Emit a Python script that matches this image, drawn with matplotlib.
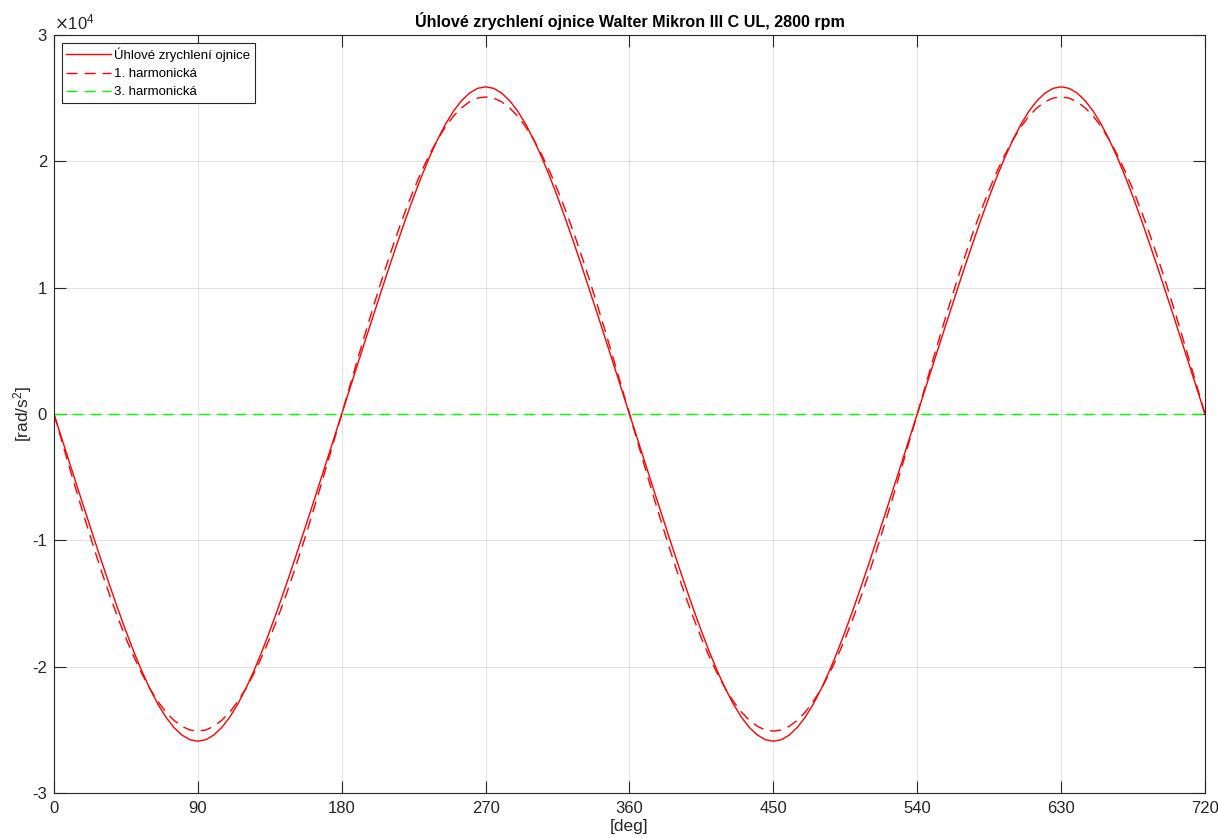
import matplotlib.pyplot as plt
import numpy as np

plt.rcParams['font.family'] = ['Liberation Sans', 'DejaVu Sans']

# crank angle, one cycle at 5 deg steps (second cycle repeats it)
angle_cycle = list(range(0, 360, 5))
# total angular acceleration of the rod [rad/s^2], 0..355 deg
accel_cycle = [0, -1980, -3960, -5930, -7890, -9830, -11750, -13620, -15440, -17180,
               -18830, -20360, -21740, -22960, -23990, -24810, -25410, -25780, -25900,
               -25780, -25410, -24810, -23990, -22960, -21740, -20360, -18830, -17180,
               -15440, -13620, -11750, -9830, -7890, -5930, -3960, -1980,
               0, 1980, 3960, 5930, 7890, 9830, 11750, 13620, 15440, 17180,
               18830, 20360, 21740, 22960, 23990, 24810, 25410, 25780, 25900,
               25780, 25410, 24810, 23990, 22960, 21740, 20360, 18830, 17180,
               15440, 13620, 11750, 9830, 7890, 5930, 3960, 1980]
# 1st harmonic
harm1_cycle = [0, -2190, -4360, -6500, -8580, -10610, -12550, -14400, -16130, -17750,
               -19230, -20560, -21740, -22750, -23590, -24240, -24720, -25010, -25100,
               -25010, -24720, -24240, -23590, -22750, -21740, -20560, -19230, -17750,
               -16130, -14400, -12550, -10610, -8580, -6500, -4360, -2190,
               0, 2190, 4360, 6500, 8580, 10610, 12550, 14400, 16130, 17750,
               19230, 20560, 21740, 22750, 23590, 24240, 24720, 25010, 25100,
               25010, 24720, 24240, 23590, 22750, 21740, 20560, 19230, 17750,
               16130, 14400, 12550, 10610, 8580, 6500, 4360, 2190]
# 3rd harmonic (flat in the plot)
harm3_cycle = [0] * 72

angle = np.array(angle_cycle + [a + 360 for a in angle_cycle] + [720])
accel = np.array(accel_cycle + accel_cycle + [0])
harm1 = np.array(harm1_cycle + harm1_cycle + [0])
harm3 = np.array(harm3_cycle + harm3_cycle + [0])

xticks = list(range(0, 721, 90))
yticks = [-3e4, -2e4, -1e4, 0, 1e4, 2e4, 3e4]
ylabels = ['-3', '-2', '-1', '0', '1', '2', '3']

fig = plt.figure(figsize=(12.18, 8.38), dpi=100)
ax = fig.add_axes([0.0443, 0.0537, 0.945, 0.9045])

ax.plot(angle, accel, color='red', lw=1.0, label='Úhlové zrychlení ojnice')
ax.plot(angle, harm1, color='red', lw=1.0, ls=(0, (8, 5)), label='1. harmonická')
ax.plot(angle, harm3, color='#00ff00', lw=1.0, ls=(0, (8, 5)), label='3. harmonická')

ax.set_xlim(0, 720)
ax.set_ylim(-3e4, 3e4)
ax.set_xticks(xticks)
ax.set_yticks(yticks)
ax.set_yticklabels(ylabels)
ax.grid(True, color='#262626', alpha=0.12, lw=0.8)
ax.tick_params(direction='in', length=8.5, top=True, right=True, labelsize=12,
               colors='#262626', width=0.8)
ax.tick_params(axis='x', pad=6)
ax.tick_params(axis='y', pad=5)
for s in ax.spines.values():
    s.set_color('#262626')
    s.set_linewidth(0.8)

ax.text(0.0, 1.004, r'$\times\mathregular{10^{4}}$', transform=ax.transAxes,
        fontsize=12, ha='left', va='bottom', color='#262626')
ax.set_title('Úhlové zrychlení ojnice Walter Mikron III C UL, 2800 rpm',
             fontsize=11.6, fontweight='bold', pad=6)
ax.set_xlabel('[deg]', fontsize=12.5, labelpad=2, color='#262626')
ax.set_ylabel(r'[rad/s$\mathregular{^2}$]', fontsize=12.5, labelpad=-1, color='#262626')

leg = ax.legend(loc='upper left', fontsize=9.5, fancybox=False, framealpha=1,
                edgecolor='#262626', handlelength=3.4, borderpad=0.35,
                labelspacing=0.45, handletextpad=0.2, borderaxespad=0.6)
leg.get_frame().set_linewidth(0.8)

fig.savefig('out.png', dpi=100)
